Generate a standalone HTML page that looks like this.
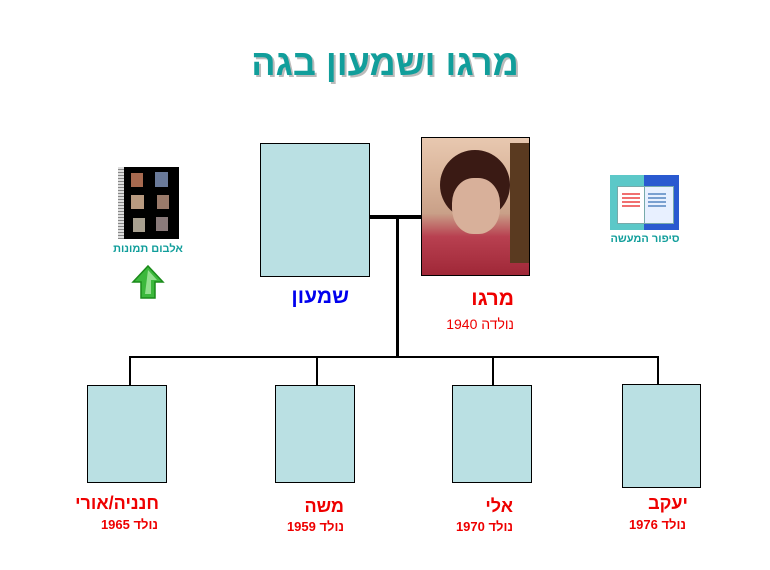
<!DOCTYPE html>
<html><head><meta charset="utf-8"><style>
body{margin:0;width:770px;height:570px;background:#fff;position:relative;overflow:hidden;font-family:"Liberation Sans","Noto Sans CJK JP",sans-serif}
.a{position:absolute}
.box{position:absolute;background:#bae0e3;border:1px solid #000;box-sizing:border-box}
.ln{position:absolute;background:#000}
.t{position:absolute;direction:rtl;white-space:nowrap;font-weight:bold}
</style></head><body>
<div class="t" style="left:235px;top:42px;width:300px;text-align:center;font-size:36px;color:#119e9b;text-shadow:2px 2px 0 #bbb">מרגו ושמעון בגה</div>

<div class="box" style="left:260px;top:143px;width:110px;height:134px"></div>
<div class="a" style="left:421px;top:137px;width:109px;height:139px;border:1px solid #000;box-sizing:border-box;background:linear-gradient(180deg,#e8c8b0 0%,#d9b49a 30%,#c9a088 55%,#b84050 72%,#a02838 100%);overflow:hidden">
<div class="a" style="left:18px;top:12px;width:70px;height:70px;border-radius:50%;background:#3a1a14"></div>
<div class="a" style="left:30px;top:40px;width:48px;height:56px;border-radius:45%;background:#d8b09a"></div>
<div class="a" style="left:88px;top:5px;width:20px;height:120px;background:#5a3a20"></div>
</div>

<div class="ln" style="left:370px;top:215px;width:51px;height:4px"></div>
<div class="ln" style="left:396px;top:217px;width:3px;height:141px"></div>
<div class="ln" style="left:129px;top:356px;width:530px;height:2px"></div>
<div class="ln" style="left:129px;top:356px;width:2px;height:30px"></div>
<div class="ln" style="left:316px;top:356px;width:2px;height:29px"></div>
<div class="ln" style="left:492px;top:356px;width:2px;height:29px"></div>
<div class="ln" style="left:657px;top:356px;width:2px;height:29px"></div>

<div class="box" style="left:87px;top:385px;width:80px;height:98px"></div>
<div class="box" style="left:275px;top:385px;width:80px;height:98px"></div>
<div class="box" style="left:452px;top:385px;width:80px;height:98px"></div>
<div class="box" style="left:622px;top:384px;width:79px;height:104px"></div>

<div class="t" style="right:421px;top:285px;font-size:21px;color:#0000ee">שמעון</div>
<div class="t" style="right:256px;top:287px;font-size:21px;color:#e00">מרגו</div>
<div class="t" style="right:256px;top:316px;font-size:14px;font-weight:normal;color:#e00">נולדה 1940</div>

<div class="t" style="right:611px;top:493px;font-size:18px;color:#e00">חנניה/אורי</div>
<div class="t" style="right:612px;top:517px;font-size:13px;color:#e00">נולד 1965</div>
<div class="t" style="right:426px;top:496px;font-size:18px;color:#e00">משה</div>
<div class="t" style="right:426px;top:519px;font-size:13px;color:#e00">נולד 1959</div>
<div class="t" style="right:257px;top:496px;font-size:18px;color:#e00">אלי</div>
<div class="t" style="right:257px;top:519px;font-size:13px;color:#e00">נולד 1970</div>
<div class="t" style="right:82px;top:493px;font-size:18px;color:#e00">יעקב</div>
<div class="t" style="right:84px;top:517px;font-size:13px;color:#e00">נולד 1976</div>

<!-- album -->
<div class="a" style="left:118px;top:167px;width:61px;height:72px;background:#000"></div>
<div class="a" style="left:118px;top:167px;width:6px;height:72px;background:repeating-linear-gradient(180deg,#ddd 0 2px,#888 2px 3px)"></div>
<div class="a" style="left:131px;top:173px;width:12px;height:14px;background:#a86a50"></div>
<div class="a" style="left:155px;top:172px;width:13px;height:15px;background:#6a7a9a"></div>
<div class="a" style="left:131px;top:195px;width:13px;height:14px;background:#b89a80"></div>
<div class="a" style="left:157px;top:195px;width:12px;height:14px;background:#9a7a6a"></div>
<div class="a" style="left:133px;top:218px;width:12px;height:14px;background:#a8a090"></div>
<div class="a" style="left:156px;top:217px;width:12px;height:14px;background:#8a7a7a"></div>
<div class="t" style="left:108px;top:243px;width:80px;text-align:center;font-size:11px;color:#119e9b">אלבום תמונות</div>
<svg class="a" style="left:131px;top:264px" width="34" height="36" viewBox="0 0 34 36"><path d="M17 2 L32 18 L24 18 L24 34 L10 34 L10 18 L2 18 Z" fill="#3cb83c" stroke="#1a8a1a" stroke-width="1.5"/><path d="M17 6 L26 16 L20 16 L20 30 L14 30 Z" fill="#b8f0b0" opacity=".7"/></svg>

<!-- book -->
<div class="a" style="left:610px;top:175px;width:34px;height:55px;background:#5cc8c8"></div>
<div class="a" style="left:644px;top:175px;width:35px;height:55px;background:#2a5ad0"></div>
<div class="a" style="left:617px;top:186px;width:27px;height:36px;background:#fff;border:1px solid #7aa"></div>
<div class="a" style="left:644px;top:186px;width:28px;height:36px;background:#e8f0ff;border:1px solid #7aa"></div>
<div class="a" style="left:622px;top:193px;width:18px;height:14px;background:repeating-linear-gradient(180deg,#f07070 0 2px,transparent 2px 4px)"></div>
<div class="a" style="left:648px;top:193px;width:18px;height:14px;background:repeating-linear-gradient(180deg,#7aa0d0 0 2px,transparent 2px 4px)"></div>
<div class="t" style="left:600px;top:233px;width:90px;text-align:center;font-size:11px;color:#119e9b">סיפור המעשה</div>
</body></html>
